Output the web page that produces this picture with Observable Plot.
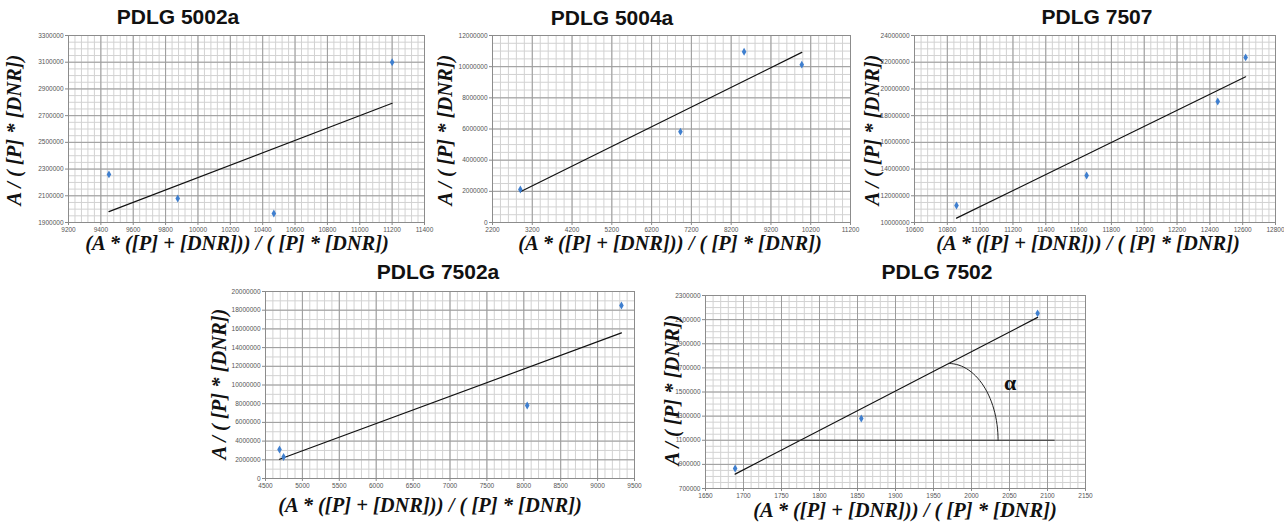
<!DOCTYPE html>
<html><head><meta charset="utf-8">
<script src="https://cdn.jsdelivr.net/npm/d3@7"></script>
<script src="https://cdn.jsdelivr.net/npm/@observablehq/plot@0.6"></script>
<style>
body{margin:0;background:#fff;}
#root{position:relative;width:1284px;height:529px;overflow:hidden;font-family:"Liberation Sans",Arial,sans-serif;}
.title{position:absolute;font-weight:bold;font-size:21px;transform:translate(-50%,-50%);white-space:nowrap;color:#111;}
.ax{position:absolute;font-family:"Liberation Serif","Times New Roman",serif;font-style:italic;font-weight:bold;font-size:20.5px;white-space:nowrap;color:#111;}
.xt{transform:translate(-50%,-50%);}
.yt{transform:translate(-50%,-50%) rotate(-90deg);}
svg{position:absolute;overflow:visible;}
</style>
</head><body><div id="root"></div>
<script>
// ---------- data ----------
const titles = ["PDLG 5002a", "PDLG 5004a", "PDLG 7507", "PDLG 7502a", "PDLG 7502"];

const p5002a_x = [9450, 9875, 10469, 11200];
const p5002a_y = [2260000, 2080000, 1967000, 3100000];
const p5002a_xTicks = [9200, 9400, 9600, 9800, 10000, 10200, 10400, 10600, 10800, 11000, 11200, 11400];
const p5002a_yTicks = [1900000, 2100000, 2300000, 2500000, 2700000, 2900000, 3100000, 3300000];

const p5004a_x = [2900, 6925, 8525, 9975];
const p5004a_y = [2120000, 5830000, 10960000, 10130000];
const p5004a_xTicks = [2200, 3200, 4200, 5200, 6200, 7200, 8200, 9200, 10200, 11200];
const p5004a_yTicks = [0, 2000000, 4000000, 6000000, 8000000, 10000000, 12000000];

const p7507_x = [10856, 11649, 12448, 12618];
const p7507_y = [11270000, 13520000, 19060000, 22360000];
const p7507_xTicks = [10600, 10800, 11000, 11200, 11400, 11600, 11800, 12000, 12200, 12400, 12600, 12800];
const p7507_yTicks = [10000000, 12000000, 14000000, 16000000, 18000000, 20000000, 22000000, 24000000];

const p7502a_x = [4690, 4745, 8046, 9323];
const p7502a_y = [3100000, 2300000, 7800000, 18500000];
const p7502a_xTicks = [4500, 5000, 5500, 6000, 6500, 7000, 7500, 8000, 8500, 9000, 9500];
const p7502a_yTicks = [0, 2000000, 4000000, 6000000, 8000000, 10000000, 12000000, 14000000, 16000000, 18000000, 20000000];

const p7502_x = [1689, 1855, 2087];
const p7502_y = [866000, 1281000, 2152000];
const p7502_xTicks = [1650, 1700, 1750, 1800, 1850, 1900, 1950, 2000, 2050, 2100, 2150];
const p7502_yTicks = [700000, 900000, 1100000, 1300000, 1500000, 1700000, 1900000, 2100000, 2300000];
// angle annotation (data units)
const p7502_angleBaseY = 1100000;
const p7502_angleBaseX = [1750, 2110];
const p7502_arcX = [1970, 2035];
const p7502_alpha = {x: 2051, y: 1571000, label: "α"};

// ---------- helpers ----------
const root = document.getElementById("root");
function linfit(xs, ys) {
  const mx = d3.mean(xs), my = d3.mean(ys);
  let sxy = 0, sxx = 0;
  xs.forEach((x, i) => { sxy += (x - mx) * (ys[i] - my); sxx += (x - mx) ** 2; });
  const b = sxy / sxx;
  return x => my + b * (x - mx);
}
function addText(cls, txt, x, y) {
  const d = document.createElement("div");
  d.className = cls; d.textContent = txt;
  d.style.left = x + "px"; d.style.top = y + "px";
  root.appendChild(d);
}
const yTitle = "A / ( [P] * [DNR])";
const xTitle = "(A * ([P] + [DNR])) / ( [P] * [DNR])";

function panel(c) {
  const mL = 44, mR = 10, mT = 6, mB = 16;
  const w = c.right - c.left + mL + mR, h = c.bottom - c.top + mT + mB;
  const pts = c.xs.map((x, i) => ({x, y: c.ys[i]}));
  const fit = linfit(c.xs, c.ys);
  const x0 = d3.min(c.xs), x1 = d3.max(c.xs);
  const trend = [{x: x0, y: fit(x0)}, {x: x1, y: fit(x1)}];
  const xd = [c.xTicks[0], c.xTicks[c.xTicks.length - 1]];
  const yd = [c.yTicks[0], c.yTicks[c.yTicks.length - 1]];
  const xStep = (c.xTicks[1] - c.xTicks[0]) / c.xSub;
  const yStep = (c.yTicks[1] - c.yTicks[0]) / c.ySub;
  const minorX = d3.range(xd[0], xd[1] + xStep / 2, xStep);
  const minorY = d3.range(yd[0], yd[1] + yStep / 2, yStep);
  const extra = c.extra ? c.extra(fit) : [];
  const svg = Plot.plot({
    width: w, height: h, marginLeft: mL, marginRight: mR, marginTop: mT, marginBottom: mB,
    style: {background: "transparent", fontSize: "6.5px", color: "#555", fontFamily: "Liberation Sans, Arial, sans-serif"},
    x: {domain: xd}, y: {domain: yd},
    marks: [
      Plot.ruleX(minorX, {stroke: "#d2d2d2", strokeWidth: 1}),
      Plot.ruleY(minorY, {stroke: "#d2d2d2", strokeWidth: 1}),
      Plot.ruleX(c.xTicks, {stroke: "#9c9c9c", strokeWidth: 1}),
      Plot.ruleY(c.yTicks, {stroke: "#9c9c9c", strokeWidth: 1}),
      Plot.frame({stroke: "#8c8c8c"}),
      Plot.axisX({ticks: c.xTicks, tickSize: 3, tickPadding: 2, tickFormat: d => String(d), label: null, stroke: "#888"}),
      Plot.axisY({ticks: c.yTicks, tickSize: 3, tickPadding: 2, tickFormat: d => String(d), label: null, stroke: "#888"}),
      Plot.line(trend, {x: "x", y: "y", stroke: "#111", strokeWidth: 1.2}),
      ...extra,
      Plot.dot(pts, {x: "x", y: "y", symbol: "diamond", r: 2.4, fill: "#3f7fcf"})
    ]
  });
  svg.style.left = (c.left - mL) + "px";
  svg.style.top = (c.top - mT) + "px";
  root.appendChild(svg);
  addText("title", c.title, c.titlePos[0], c.titlePos[1]);
  addText("ax xt", xTitle, c.xtPos[0], c.xtPos[1]);
  addText("ax yt", yTitle, c.ytPos[0], c.ytPos[1]);
}

panel({title: titles[0], left: 68, right: 424, top: 35, bottom: 222,
  xs: p5002a_x, ys: p5002a_y, xTicks: p5002a_xTicks, yTicks: p5002a_yTicks, xSub: 5, ySub: 4,
  titlePos: [178, 17], xtPos: [237, 243], ytPos: [14, 130]});
panel({title: titles[1], left: 492, right: 850, top: 35, bottom: 222,
  xs: p5004a_x, ys: p5004a_y, xTicks: p5004a_xTicks, yTicks: p5004a_yTicks, xSub: 5, ySub: 4,
  titlePos: [612, 18], xtPos: [670, 243], ytPos: [445, 130]});
panel({title: titles[2], left: 914, right: 1275, top: 35, bottom: 222,
  xs: p7507_x, ys: p7507_y, xTicks: p7507_xTicks, yTicks: p7507_yTicks, xSub: 5, ySub: 4,
  titlePos: [1097, 17], xtPos: [1088, 243], ytPos: [872, 130]});
panel({title: titles[3], left: 265, right: 634, top: 291, bottom: 478,
  xs: p7502a_x, ys: p7502a_y, xTicks: p7502a_xTicks, yTicks: p7502a_yTicks, xSub: 5, ySub: 2,
  titlePos: [438, 272], xtPos: [430, 505], ytPos: [219, 384]});
panel({title: titles[4], left: 705, right: 1085, top: 295, bottom: 488,
  xs: p7502_x, ys: p7502_y, xTicks: p7502_xTicks, yTicks: p7502_yTicks, xSub: 5, ySub: 4,
  titlePos: [937, 272], xtPos: [905, 510], ytPos: [672, 390],
  extra: fit => {
    const cx = p7502_arcX[0], rx = p7502_arcX[1] - p7502_arcX[0];
    const ry = fit(cx) - p7502_angleBaseY;
    const arc = d3.range(0, 91, 3).map(t => {
      const a = t * Math.PI / 180;
      return {x: cx + rx * Math.sin(a), y: p7502_angleBaseY + ry * Math.cos(a)};
    });
    return [
      Plot.ruleY([p7502_angleBaseY], {x1: p7502_angleBaseX[0], x2: p7502_angleBaseX[1], stroke: "#333", strokeWidth: 1.2}),
      Plot.line(arc, {x: "x", y: "y", stroke: "#222", strokeWidth: 1, curve: "basis"}),
      Plot.text([p7502_alpha], {x: "x", y: "y", text: "label", fontSize: 22, fontWeight: "bold", fontFamily: "Liberation Serif, serif", fill: "#111"})
    ];
  }});
</script>
</body></html>
